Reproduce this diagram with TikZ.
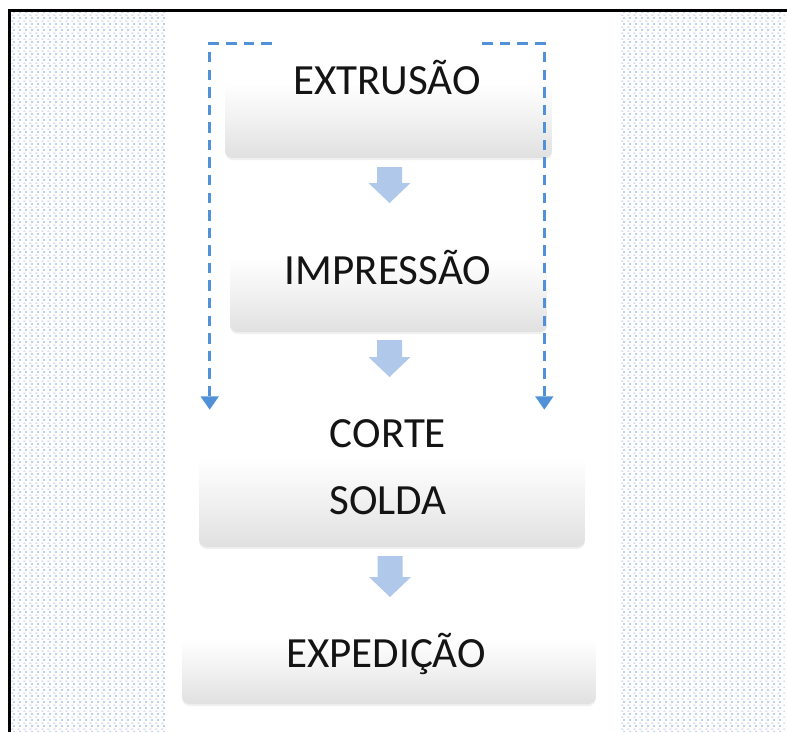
\documentclass[tikz,border=0pt]{standalone}
\usepackage{fontspec}
\setmainfont{Carlito}
\usetikzlibrary{arrows.meta,patterns,shadows}

\definecolor{dotblue}{RGB}{100,145,220}
\definecolor{dotgray}{RGB}{195,198,228}
\definecolor{flowblue}{RGB}{80,145,215}
\definecolor{blockblue}{RGB}{176,200,234}
\definecolor{boxgray}{RGB}{224,224,224}
\definecolor{labelink}{RGB}{20,20,20}

% dotted paper on both sides
\pgfdeclarepatterninherentlycolored{bgdots}{\pgfpointorigin}{\pgfqpoint{3.4pt}{3.4pt}}{\pgfqpoint{3.4pt}{3.4pt}}{%
  \pgfsetfillcolor{dotblue}
  \pgfpathrectangle{\pgfqpoint{1.4pt}{2.55pt}}{\pgfqpoint{0.6pt}{0.6pt}}\pgfusepath{fill}
  \pgfsetfillcolor{dotgray}
  \pgfpathrectangle{\pgfqpoint{0.2pt}{0.85pt}}{\pgfqpoint{1.1pt}{0.5pt}}\pgfusepath{fill}}

% white on top, grey towards the bottom edge
\pgfdeclareverticalshading{boxfade}{100bp}{color(0bp)=(boxgray); color(25bp)=(boxgray); color(42bp)=(boxgray!45!white); color(58bp)=(white); color(100bp)=(white)}

\begin{document}
\begin{tikzpicture}[x=0.02cm,y=-0.02cm]
\tikzset{
  stepbox/.style={shade,shading=boxfade,draw=none,rounded corners=4.5pt,inner sep=0pt,
    drop shadow={opacity=0.12,shadow xshift=0pt,shadow yshift=-1.2pt}},
  steptext/.style={font=\fontsize{24.5}{29}\selectfont,text=labelink,inner sep=0pt,anchor=base},
  pics/blockdown/.style={code={
    \fill[blockblue] (-12.5,0) -- (12.5,0) -- (12.5,#1-20) -- (21,#1-20) -- (0,#1)
      -- (-21,#1-20) -- (-12.5,#1-20) -- cycle;}},
  returnflow/.style={draw=flowblue,line width=1.4pt,dash pattern=on 6pt off 4pt,
    -{Triangle[length=7.5pt,width=10pt]}},
  frameline/.style={draw=black,line width=1.7pt}
}
\useasboundingbox (0,0) rectangle (787,731);
\fill[pattern=bgdots] (11,12) rectangle (165,731);
\fill[pattern=bgdots] (620,12) rectangle (785,731);
\draw[frameline] (9.5,735) -- (9.5,10.5) -- (790,10.5);

\node[stepbox,minimum width=6.54cm,minimum height=2.28cm] (extr) at (388.5,101) {};
\node[stepbox,minimum width=6.34cm,minimum height=2.24cm] (impr) at (388.5,276) {};
\node[stepbox,minimum width=7.72cm,minimum height=2.74cm] (corte) at (392,478.5) {};
\node[stepbox,minimum width=8.28cm,minimum height=1.96cm] (exped) at (389,655) {};

\node[steptext] (extrlbl) at (387,94) {EXTRUSÃO};
\node[steptext] (imprlbl) at (388,284) {IMPRESSÃO};
\node[steptext] (cortelbl) at (388,447) {CORTE};
\node[steptext] (soldalbl) at (388,514) {SOLDA};
\node[steptext] (expedlbl) at (386,667) {EXPEDIÇÃO};

\pic (step1) at (389.5,167) {blockdown=36};
\pic (step2) at (389.5,340) {blockdown=37};
\pic (step3) at (390,556) {blockdown=41};

\draw[returnflow] ([xshift=0.94cm]extr.north west) -| ([xshift=0.22cm]corte.north west);
\draw[returnflow] ([xshift=-1.4cm]extr.north east) -| ([xshift=-0.82cm]corte.north east);
\end{tikzpicture}
\end{document}
